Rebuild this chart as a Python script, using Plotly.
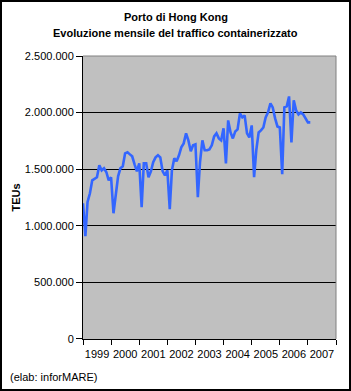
import pandas as pd
import plotly.graph_objects as go

# Monthly container traffic, Hong Kong port (TEUs), Jan 1999 .. Feb 2007
teu = [
    1199000, 908000, 1210000, 1287000, 1402000, 1420000, 1429000, 1534000, 1490000, 1508000, 1473000, 1402000,  # 1999
    1429000, 1111000, 1270000, 1437000, 1508000, 1526000, 1640000, 1649000, 1631000, 1614000, 1543000, 1481000,  # 2000
    1552000, 1164000, 1552000, 1552000, 1429000, 1481000, 1561000, 1605000, 1623000, 1605000, 1481000, 1446000,  # 2001
    1490000, 1146000, 1490000, 1596000, 1570000, 1623000, 1693000, 1728000, 1817000, 1755000, 1658000, 1711000,  # 2002
    1720000, 1252000, 1560000, 1755000, 1667000, 1667000, 1675000, 1711000, 1790000, 1817000, 1772000, 1755000,  # 2003
    1861000, 1552000, 1931000, 1825000, 1772000, 1834000, 1852000, 1993000, 1958000, 1975000, 1817000, 1781000,  # 2004
    1887000, 1429000, 1667000, 1825000, 1843000, 1869000, 1958000, 2002000, 2081000, 2046000, 1949000, 1878000,  # 2005
    1869000, 1455000, 2046000, 2055000, 2143000, 1737000, 2108000, 2019000, 1984000, 2002000, 1984000, 1949000,  # 2006
    1914000, 1914000,  # 2007
]
first_month = "1999-01-01"
months = pd.date_range(first_month, periods=len(teu), freq="MS")

x_range = ["1999-01-01", "2008-01-01"]
y_range = [-300, 2500300]
y_ticks = [0, 500000, 1000000, 1500000, 2000000, 2500000]
y_ticktext = ["0", "500.000", "1.000.000", "1.500.000", "2.000.000", "2.500.000"]

title_1 = "Porto di Hong Kong"
title_2 = "Evoluzione mensile del traffico containerizzato"
y_title = "TEUs"
footer = "(elab: inforMARE)"

W, H = 351, 391
L, R, T, B = 83, 15, 56, 52
PW, PH = W - L - R, H - T - B


def px_x(p):
    return (p - L) / PW


def px_y(p):
    return (H - B - p) / PH


FONT = "Liberation Sans, Arial, sans-serif"

fig = go.Figure()
fig.add_trace(go.Scatter(
    x=months, y=teu, mode="lines",
    line=dict(color="#3366FF", width=2.6),
    hoverinfo="skip", showlegend=False,
))

fig.update_layout(
    width=W, height=H,
    margin=dict(l=L, r=R, t=T, b=B, pad=0),
    paper_bgcolor="white",
    plot_bgcolor="#C0C0C0",
    font=dict(family=FONT, size=11, color="black"),
    showlegend=False,
    xaxis=dict(
        type="date", range=x_range, dtick="M12", tick0="1999-01-01",
        tickformat="%Y", ticklabelmode="period",
        ticks="outside", ticklen=5, tickcolor="black", tickwidth=1,
        showline=True, linecolor="black", linewidth=1,
        showgrid=False, zeroline=False, fixedrange=True,
        tickfont=dict(family=FONT, size=11, color="black"),
    ),
    yaxis=dict(
        range=y_range, tickmode="array", tickvals=y_ticks, ticktext=y_ticktext,
        ticks="outside", ticklen=6, tickcolor="black", tickwidth=1,
        showline=True, linecolor="black", linewidth=1,
        showgrid=True, gridcolor="black", gridwidth=1,
        zeroline=False, fixedrange=True,
        tickfont=dict(family=FONT, size=11, color="black"),
    ),
    shapes=[
        dict(type="line", xref="paper", yref="paper", x0=0, x1=1, y0=1, y1=1,
             line=dict(color="#808080", width=1), layer="above"),
        dict(type="line", xref="paper", yref="paper", x0=1, x1=1, y0=0, y1=1,
             line=dict(color="#808080", width=1), layer="above"),
        dict(type="rect", xref="paper", yref="paper",
             x0=px_x(1), x1=px_x(350), y0=px_y(390), y1=px_y(1),
             line=dict(color="black", width=2), fillcolor="rgba(0,0,0,0)", layer="above"),
    ],
    annotations=[
        dict(text="<b>%s</b>" % title_1, xref="paper", yref="paper",
             x=px_x(175.5), y=px_y(17), xanchor="center", yanchor="middle",
             showarrow=False, font=dict(family=FONT, size=11)),
        dict(text="<b>%s</b>" % title_2, xref="paper", yref="paper",
             x=px_x(175.5), y=px_y(33), xanchor="center", yanchor="middle",
             showarrow=False, font=dict(family=FONT, size=11)),
        dict(text="<b>%s</b>" % y_title, xref="paper", yref="paper",
             x=px_x(15), y=0.5, xanchor="center", yanchor="middle", textangle=-90,
             showarrow=False, font=dict(family=FONT, size=11)),
        dict(text=footer, xref="paper", yref="paper",
             x=px_x(8), y=px_y(377), xanchor="left", yanchor="middle",
             showarrow=False, font=dict(family=FONT, size=11)),
    ],
)

fig.write_html("out.html", config=dict(displayModeBar=False, staticPlot=True))
